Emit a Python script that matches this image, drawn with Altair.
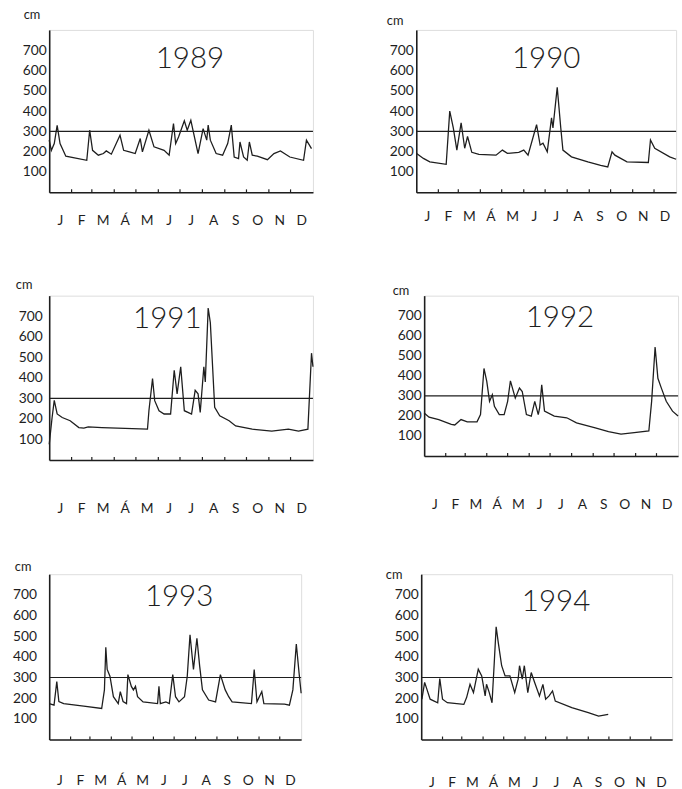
import altair as alt
import pandas as pd

MONTHS = ["J", "F", "M", "Á", "M", "J", "J", "A", "S", "O", "N", "D"]
MONTH_START = [31, 59, 90, 120, 151, 181, 212, 243, 273, 304, 334]
MONTH_MID = [15.5, 45, 74.5, 105, 135.5, 166, 196.5, 227.5, 258, 288.5, 319, 349.5]
Y_TICKS = [100, 200, 300, 400, 500, 600, 700]
THRESHOLD = [300]

day_1989 = [0, 3, 7, 11, 15, 23, 52, 56, 60, 68, 75, 79, 86, 98, 103, 111, 119, 126, 129, 138, 145,
            159, 166, 172, 175, 179, 187, 191, 196, 206, 213, 218, 220, 223, 231, 240, 247, 252, 256,
            262, 264, 269, 274, 277, 281, 288, 302, 311, 320, 333, 352, 356, 363]
cm_1989 = [257, 207, 240, 330, 240, 178, 158, 306, 207, 183, 191, 204, 188, 281, 207, 199, 191, 265,
           199, 306, 224, 207, 183, 339, 240, 273, 352, 306, 355, 191, 314, 257, 331, 257, 191, 183,
           240, 331, 174, 166, 248, 174, 158, 248, 183, 178, 161, 191, 204, 174, 158, 257, 215]

day_1990 = [0, 10, 19, 42, 47, 52, 57, 63, 68, 72, 78, 88, 112, 121, 128, 144, 151, 157, 169, 174,
            178, 184, 190, 192, 198, 203, 206, 218, 241, 259, 269, 275, 279, 296, 326, 329, 335, 356, 365]
cm_1990 = [192, 167, 150, 138, 400, 317, 208, 342, 217, 275, 197, 187, 183, 208, 192, 197, 208, 183,
           333, 233, 242, 200, 367, 317, 517, 317, 208, 175, 150, 133, 125, 200, 183, 150, 147, 258,
           217, 175, 163]

day_1991 = [0, 4, 7, 11, 18, 29, 41, 48, 54, 73, 136, 138, 143, 146, 152, 159, 168, 173, 177, 182,
            187, 197, 202, 206, 209, 214, 216, 220, 223, 229, 236, 249, 258, 281, 308, 331, 345, 358,
            363, 365]
cm_1991 = [76, 207, 290, 224, 207, 191, 158, 155, 161, 158, 150, 240, 396, 289, 240, 224, 224, 437,
           322, 454, 240, 224, 339, 322, 232, 454, 380, 740, 668, 257, 215, 191, 166, 150, 141, 150,
           141, 150, 520, 454]

day_1992 = [0, 7, 21, 39, 44, 53, 62, 76, 81, 86, 90, 94, 98, 101, 108, 115, 120, 124, 131, 137, 141,
            147, 154, 159, 164, 166, 169, 173, 187, 205, 219, 246, 265, 283, 302, 323, 327, 332, 336,
            341, 348, 357, 365]
cm_1992 = [215, 194, 182, 158, 155, 182, 171, 171, 207, 437, 372, 273, 306, 248, 207, 207, 273, 375,
           289, 339, 322, 207, 199, 273, 207, 240, 355, 224, 199, 191, 166, 141, 122, 109, 117, 125,
           273, 544, 388, 339, 273, 224, 200]

day_1993 = [0, 7, 11, 14, 21, 50, 76, 80, 82, 84, 88, 93, 100, 103, 107, 112, 114, 119, 122, 125, 128,
            136, 157, 159, 161, 169, 174, 179, 183, 188, 196, 200, 204, 209, 214, 218, 222, 231, 241,
            248, 255, 260, 265, 293, 297, 301, 308, 311, 341, 348, 353, 358, 362, 365]
cm_1993 = [174, 166, 280, 184, 174, 161, 150, 240, 446, 339, 306, 207, 174, 232, 184, 174, 314, 257,
           240, 257, 207, 182, 174, 257, 174, 182, 174, 314, 207, 182, 207, 306, 507, 339, 490, 355,
           240, 191, 182, 314, 240, 207, 182, 174, 339, 182, 232, 174, 171, 166, 240, 462, 322, 224]

day_1994 = [1, 5, 8, 13, 24, 27, 31, 38, 62, 66, 71, 76, 83, 88, 93, 95, 99, 103, 106, 109, 112, 117,
            122, 129, 136, 141, 143, 147, 150, 155, 160, 165, 172, 177, 181, 186, 191, 195, 219, 243,
            258, 272]
cm_1994 = [195, 276, 246, 195, 178, 295, 195, 178, 170, 203, 267, 227, 340, 308, 211, 267, 227, 178,
           357, 545, 471, 357, 308, 308, 227, 292, 357, 292, 357, 227, 324, 276, 211, 267, 195, 211,
           235, 186, 154, 130, 113, 122]

FONT = "Lato"
INK = "#1e1e1e"


def panel(year, days, cms, w, h, year_x, year_y, label_dy, pad=3, title_y=-9, title_x=-18):
    df = pd.DataFrame({"day": days, "cm": cms})
    xs = alt.Scale(domain=[0, 365], nice=False, zero=False)
    ys = alt.Scale(domain=[0, 800], nice=False)
    x_axis = alt.Axis(labels=False, ticks=False, title=None, grid=False,
                      domainColor=INK, domainWidth=1.6)
    y_axis = alt.Axis(values=Y_TICKS, ticks=False, grid=False, title="cm",
                      titleAngle=0, titleX=title_x, titleY=title_y, titleAlign="center",
                      titleBaseline="alphabetic", titleFont=FONT, titleFontSize=13,
                      titleFontWeight="normal", titleColor=INK,
                      labelFont=FONT, labelFontSize=14, labelColor=INK, labelPadding=pad,
                      labelOverlap=False, labelFlush=False,
                      domainColor=INK, domainWidth=1.6)
    line = alt.Chart(df).mark_line(color=INK, strokeWidth=1.3).encode(
        x=alt.X("day:Q", scale=xs, axis=x_axis), y=alt.Y("cm:Q", scale=ys, axis=y_axis))
    rule = alt.Chart(pd.DataFrame({"cm": THRESHOLD})).mark_rule(
        color=INK, strokeWidth=1.2).encode(y=alt.Y("cm:Q", scale=ys, axis=y_axis))
    ticks = alt.Chart(pd.DataFrame({"day": MONTH_START})).mark_rule(
        color=INK, strokeWidth=1.2).encode(
        x=alt.X("day:Q", scale=xs, axis=x_axis), y=alt.value(h), y2=alt.value(h - 3))
    mlabels = alt.Chart(pd.DataFrame({"day": MONTH_MID, "m": MONTHS})).mark_text(
        font=FONT, fontSize=14, color=INK, baseline="middle").encode(
        x=alt.X("day:Q", scale=xs, axis=x_axis), y=alt.value(h + label_dy), text="m:N")
    ylabel = alt.Chart(pd.DataFrame({"t": [str(year)]})).mark_text(
        font=FONT, fontSize=30, fontWeight=300, color=INK, baseline="middle").encode(
        x=alt.value(year_x), y=alt.value(year_y), text="t:N")
    return alt.layer(line, rule, ticks, mlabels, ylabel).properties(width=w, height=h)


p1989 = panel(1989, day_1989, cm_1989, 268, 165, 143, 30, 29, pad=3, title_x=-18, title_y=-12)
p1990 = panel(1990, day_1990, cm_1990, 264, 165, 132, 30, 25, title_x=-22, title_y=-6)
p1991 = panel(1991, day_1991, cm_1991, 268, 167, 120, 24, 50, pad=7, title_x=-26, title_y=-7)
p1992 = panel(1992, day_1992, cm_1992, 258, 163, 138, 23, 50, title_x=-24, title_y=-1)
p1993 = panel(1993, day_1993, cm_1993, 256, 168, 132, 23, 42, pad=13, title_x=-27, title_y=-4)
p1994 = panel(1994, day_1994, cm_1994, 255, 168, 137, 28, 44, title_x=-28, title_y=4)

row1 = alt.hconcat(p1989, p1990, spacing=72)
row2 = alt.hconcat(p1991, p1992, spacing=76)
row3 = alt.hconcat(p1993, p1994, spacing=81)

lower = alt.vconcat(row2, row3, spacing=43)
chart = alt.vconcat(row1, lower, spacing=50).properties(
    padding={"left": 12, "top": 1, "right": 0, "bottom": 0}
).configure_view(stroke=INK, strokeWidth=1.4).configure(background="white")

chart.save("out.html", embed_options={"renderer": "svg", "actions": False})
